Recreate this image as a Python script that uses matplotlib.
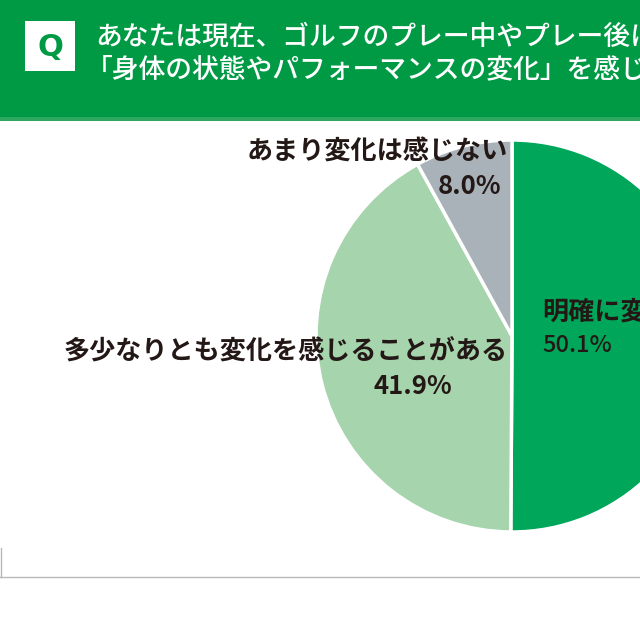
import matplotlib.pyplot as plt
from matplotlib.patches import Rectangle

plt.rcParams['font.family'] = ['Noto Sans CJK JP', 'DejaVu Sans']

question = ['あなたは現在、ゴルフのプレー中やプレー後に',
            '「身体の状態やパフォーマンスの変化」を感じることはありますか？']
labels = ['明確に変化を感じる', '多少なりとも変化を感じることがある', 'あまり変化は感じない']
values = [50.1, 41.9, 8.0]
colors = ['#00a65a', '#a5d4ad', '#a9b2b9']

W = H = 640
fig = plt.figure(figsize=(6.4, 6.4), dpi=100)
fig.patch.set_facecolor('white')


def fx(x):
    return x / W


def fy(y):
    return 1 - y / H


# header band
fig.patches.append(Rectangle((0, fy(117)), 1, 117 / H, transform=fig.transFigure,
                             facecolor='#009a45', edgecolor='none', zorder=0))
fig.patches.append(Rectangle((0, fy(121)), 1, 4 / H, transform=fig.transFigure,
                             facecolor='#2ea85e', edgecolor='none', zorder=0))
fig.patches.append(Rectangle((fx(25), fy(71)), 50 / W, 50 / H, transform=fig.transFigure,
                             facecolor='white', edgecolor='none', zorder=1))
fig.text(fx(50), fy(47), 'Q', color='#009a45', fontsize=22, fontweight='bold',
         ha='center', va='center', family='DejaVu Sans')
fig.text(fx(95), fy(37), question[0], color='white', fontsize=19.3, fontweight='medium',
         ha='left', va='center')
fig.text(fx(86), fy(70), question[1], color='white', fontsize=19.3, fontweight='medium',
         ha='left', va='center')

# frame lines at bottom
fig.lines.append(plt.Line2D([0, 1], [fy(577), fy(577)], transform=fig.transFigure,
                            color='#b8b8b8', lw=1))
fig.lines.append(plt.Line2D([fx(0.5), fx(0.5)], [fy(548), fy(577)], transform=fig.transFigure,
                            color='#b8b8b8', lw=1))

# pie
cx, cy, r = 512, 336, 196
ax = fig.add_axes([fx(cx - r), fy(cy + r), 2 * r / W, 2 * r / H])
ax.pie(values, colors=colors, startangle=90, counterclock=False, radius=1,
       wedgeprops=dict(edgecolor='white', linewidth=2.5))
ax.set_xlim(-1, 1)
ax.set_ylim(-1, 1)
ax.set_aspect('equal')
ax.axis('off')

txt = '#231815'
fs = 18.8
fig.text(fx(542), fy(313), labels[0], color=txt, fontsize=fs, fontweight='bold', ha='left', va='center')
fig.text(fx(542), fy(346), f'{values[0]:.1f}%', color=txt, fontsize=17, fontweight='medium', ha='left', va='center')
fig.text(fx(508), fy(352), labels[1], color=txt, fontsize=fs, fontweight='bold', ha='right', va='center')
fig.text(fx(413), fy(386), f'{values[1]:.1f}%', color=txt, fontsize=18.5, fontweight='bold', ha='center', va='center')
fig.text(fx(508), fy(152), labels[2], color=txt, fontsize=fs, fontweight='bold', ha='right', va='center')
fig.text(fx(501), fy(186), f'{values[2]:.1f}%', color=txt, fontsize=18.5, fontweight='bold', ha='right', va='center')

fig.savefig('out.png', dpi=100)
